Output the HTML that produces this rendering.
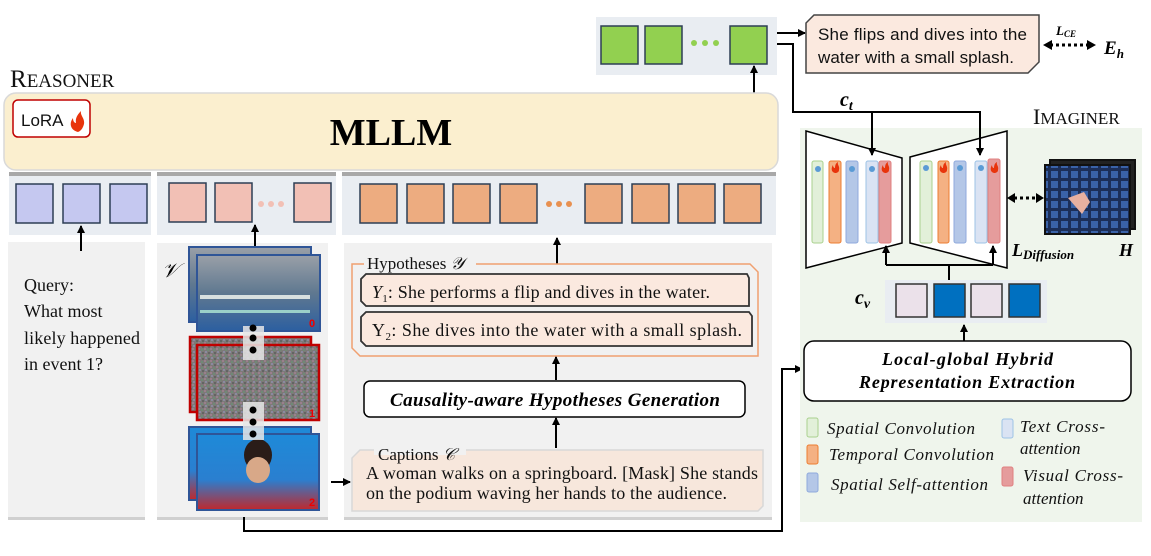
<!DOCTYPE html>
<html><head><meta charset="utf-8"><style>
html,body{margin:0;padding:0;background:#fff;}
svg{display:block}
.s{font-family:"Liberation Serif",serif;}
.a{font-family:"Liberation Sans",sans-serif;}
</style></head><body>
<svg width="1151" height="556" viewBox="0 0 1151 556" xmlns="http://www.w3.org/2000/svg">
<defs>
<marker id="ah" markerWidth="8" markerHeight="8" refX="7" refY="4" orient="auto" markerUnits="userSpaceOnUse"><path d="M0,0 L8,4 L0,8 Z" fill="#000"/></marker>
<pattern id="noise" width="6" height="6" patternUnits="userSpaceOnUse">
<rect width="6" height="6" fill="#7d7a78"/><rect x="0" y="0" width="2" height="2" fill="#9a7f8c"/><rect x="3" y="1" width="2" height="2" fill="#6f8a76"/><rect x="1" y="3" width="2" height="2" fill="#8a8aa0"/><rect x="4" y="4" width="2" height="2" fill="#646464"/></pattern>
<pattern id="seats" width="10" height="10" patternUnits="userSpaceOnUse"><rect width="10" height="10" fill="#1c2e58"/><rect x="1" y="1" width="7" height="7" fill="#3a62a8"/></pattern>
<linearGradient id="pool" x1="0" y1="0" x2="0" y2="1"><stop offset="0" stop-color="#9aa0a8"/><stop offset="0.5" stop-color="#5f7890"/><stop offset="1" stop-color="#2c5fa0"/></linearGradient>
<linearGradient id="pod" x1="0" y1="0" x2="0" y2="1"><stop offset="0" stop-color="#1e8ad8"/><stop offset="0.6" stop-color="#2a7fd0"/><stop offset="1" stop-color="#c0282c"/></linearGradient>
</defs>

<!-- green output tokens -->
<rect x="596" y="17" width="181" height="58" fill="#e9edf2"/>
<rect x="601" y="26" width="37" height="38" fill="#92d050" stroke="#2d3e55" stroke-width="1.5"/>
<rect x="645" y="26" width="37" height="38" fill="#92d050" stroke="#2d3e55" stroke-width="1.5"/>
<circle cx="694" cy="43" r="3" fill="#92d050"/><circle cx="705" cy="43" r="3" fill="#92d050"/><circle cx="716" cy="43" r="3" fill="#92d050"/>
<rect x="730" y="26" width="37" height="38" fill="#92d050" stroke="#2d3e55" stroke-width="1.5"/>
<line x1="754" y1="93" x2="754" y2="66" stroke="#000" stroke-width="2" marker-end="url(#ah)"/>

<!-- output sentence -->
<line x1="777" y1="33" x2="805" y2="33" stroke="#000" stroke-width="2" marker-end="url(#ah)"/>
<polygon points="814,15 1039,15 1039,62 1028,73 806,73 806,23" fill="#fbe9df" stroke="#444" stroke-width="1.5"/>
<text x="818" y="40" class="a" font-size="17" fill="#111" textLength="209">She flips and dives into the</text>
<text x="818" y="63" class="a" font-size="17" fill="#111" textLength="196">water with a small splash.</text>
<text x="1056" y="35" class="s" font-size="13" font-weight="bold" font-style="italic">L<tspan font-size="9" dy="2">CE</tspan></text>
<line x1="1050" y1="45" x2="1088" y2="45" stroke="#000" stroke-width="3" stroke-dasharray="3,3"/>
<path d="M1043,45 l9,-5 v10 z M1096,45 l-9,-5 v10 z" fill="#000"/>
<text x="1104" y="54" class="s" font-size="19" font-weight="bold" font-style="italic">E<tspan font-size="13" dy="4">h</tspan></text>

<!-- REASONER -->
<text x="10" y="87" class="s" font-size="25" fill="#111">R<tspan font-size="19">EASONER</tspan></text>
<rect x="4" y="93" width="774" height="77" rx="12" fill="#fbefcf" stroke="#d9d9d9" stroke-width="1.5"/>
<rect x="13" y="100" width="77" height="37" rx="5" fill="#fff" stroke="#c00000" stroke-width="1.5"/>
<text x="21" y="126" class="a" font-size="17" fill="#111">LoRA</text>
<path d="M78,132 c-8,-2 -9,-9 -5,-14 c0,4 2,5 3,5 c-1,-5 2,-9 5,-12 c-1,5 4,7 3,13 c-1,4 -3,7 -6,8 z" fill="#e8340c"/>
<text x="391" y="145" class="s" font-size="38" font-weight="bold" text-anchor="middle">MLLM</text>

<!-- token rows -->
<rect x="9" y="172" width="142" height="63" fill="#e9edf2"/><rect x="9" y="172" width="142" height="4" fill="#a8a8a8"/>
<rect x="157" y="172" width="179" height="63" fill="#e9edf2"/><rect x="157" y="172" width="179" height="4" fill="#a8a8a8"/>
<rect x="342" y="172" width="434" height="63" fill="#e9edf2"/><rect x="342" y="172" width="434" height="4" fill="#a8a8a8"/>
<g stroke="#2d3e55" stroke-width="1.5">
<rect x="16" y="184" width="37" height="39" fill="#c5c8f0"/>
<rect x="63" y="184" width="37" height="39" fill="#c5c8f0"/>
<rect x="110" y="184" width="37" height="39" fill="#c5c8f0"/>
<rect x="169" y="183" width="37" height="39" fill="#f2c0b5"/>
<rect x="215" y="183" width="37" height="39" fill="#f2c0b5"/>
<rect x="294" y="183" width="37" height="39" fill="#f2c0b5"/>
<rect x="360" y="184" width="37" height="39" fill="#edac80"/>
<rect x="407" y="184" width="37" height="39" fill="#edac80"/>
<rect x="453" y="184" width="37" height="39" fill="#edac80"/>
<rect x="500" y="184" width="37" height="39" fill="#edac80"/>
<rect x="585" y="184" width="37" height="39" fill="#edac80"/>
<rect x="632" y="184" width="37" height="39" fill="#edac80"/>
<rect x="678" y="184" width="37" height="39" fill="#edac80"/>
<rect x="724" y="184" width="37" height="39" fill="#edac80"/>
</g>
<circle cx="261" cy="204" r="3" fill="#f2c0b5"/><circle cx="271" cy="204" r="3" fill="#f2c0b5"/><circle cx="281" cy="204" r="3" fill="#f2c0b5"/>
<circle cx="549" cy="204" r="3" fill="#e89050"/><circle cx="559" cy="204" r="3" fill="#e89050"/><circle cx="569" cy="204" r="3" fill="#e89050"/>

<!-- Query panel -->
<rect x="8" y="242" width="137" height="278" fill="#f1f1f1"/><rect x="8" y="517" width="137" height="3" fill="#d0d0d0"/>
<line x1="81" y1="251" x2="81" y2="226" stroke="#000" stroke-width="2" marker-end="url(#ah)"/>
<g class="s" font-size="18" fill="#111">
<text x="24" y="291">Query:</text>
<text x="24" y="317">What most</text>
<text x="24" y="344" textLength="116">likely happened</text>
<text x="24" y="370">in event 1?</text>
</g>

<!-- V panel -->
<rect x="157" y="243" width="171" height="277" fill="#f1f1f1"/><rect x="157" y="517" width="171" height="3" fill="#d0d0d0"/>
<line x1="255" y1="250" x2="255" y2="225" stroke="#000" stroke-width="2" marker-end="url(#ah)"/>
<text x="162" y="277" class="s" font-size="20" font-style="italic">𝒱</text>
<rect x="189" y="247" width="122" height="75" fill="url(#pool)" stroke="#2f5597" stroke-width="2"/>
<rect x="197" y="255" width="123" height="76" fill="url(#pool)" stroke="#2f5597" stroke-width="2"/>
<rect x="200" y="295" width="110" height="4" fill="#d8e0e0"/><rect x="200" y="310" width="110" height="3" fill="#9bd0c8"/>
<text x="309" y="327" class="a" font-size="11" font-weight="bold" fill="#e00">0</text>
<rect x="190" y="337" width="121" height="75" fill="url(#noise)" stroke="#c00000" stroke-width="2.5"/>
<rect x="197" y="345" width="122" height="75" fill="url(#noise)" stroke="#c00000" stroke-width="2.5"/>
<text x="309" y="417" class="a" font-size="11" font-weight="bold" fill="#e00">1</text>
<rect x="189" y="427" width="122" height="73" fill="url(#pod)" stroke="#2f5597" stroke-width="2"/>
<rect x="197" y="434" width="122" height="76" fill="url(#pod)" stroke="#2f5597" stroke-width="2"/>
<ellipse cx="258" cy="455" rx="14" ry="16" fill="#2a1c18"/><ellipse cx="258" cy="470" rx="12" ry="13" fill="#d8a888"/>
<text x="309" y="506" class="a" font-size="11" font-weight="bold" fill="#e00">2</text>
<rect x="243" y="326" width="21" height="34" fill="#e6e6e6" opacity="0.85"/>
<rect x="243" y="402" width="21" height="38" fill="#e6e6e6" opacity="0.85"/>
<circle cx="253" cy="328" r="3.5" fill="#000"/><circle cx="253" cy="338" r="3.5" fill="#000"/><circle cx="253" cy="350" r="3.5" fill="#000"/>
<circle cx="253" cy="410" r="3.5" fill="#000"/><circle cx="253" cy="422" r="3.5" fill="#000"/><circle cx="253" cy="434" r="3.5" fill="#000"/>

<!-- main panel -->
<rect x="344" y="243" width="428" height="277" fill="#f1f1f1"/><rect x="344" y="517" width="428" height="3" fill="#d0d0d0"/>
<line x1="557" y1="264" x2="557" y2="238" stroke="#000" stroke-width="2" marker-end="url(#ah)"/>
<polyline points="364,264 352,264 352,348 360,356 758,356 758,272 750,264 476,264" fill="none" stroke="#f0a070" stroke-width="1.5"/>
<text x="367" y="269" class="s" font-size="17" fill="#111">Hypotheses <tspan font-style="italic">𝒴</tspan></text>
<polygon points="366,274 747,274 749,278 749,306 366,306 361,301 361,279" fill="#fbe9df" stroke="#333" stroke-width="1.8"/>
<text x="372" y="298" class="s" font-size="18" fill="#111" textLength="338"><tspan font-style="italic">Y</tspan><tspan font-size="11" dy="4">1</tspan><tspan dy="-4">: She performs a flip and dives in the water.</tspan></text>
<polygon points="366,312 749,312 752,316 752,346 366,346 361,341 361,317" fill="#fbe9df" stroke="#333" stroke-width="1.8"/>
<text x="372" y="336" class="s" font-size="18" fill="#111" textLength="370">Y<tspan font-size="11" dy="4">2</tspan><tspan dy="-4">: She dives into the water with a small splash.</tspan></text>
<line x1="556" y1="380" x2="556" y2="357" stroke="#000" stroke-width="2" marker-end="url(#ah)"/>
<rect x="364" y="381" width="381" height="36" rx="6" fill="#fff" stroke="#000" stroke-width="1.5"/>
<text x="390" y="406" class="s" font-size="19" font-weight="bold" font-style="italic" textLength="330">Causality-aware Hypotheses Generation</text>
<line x1="556" y1="448" x2="556" y2="418" stroke="#000" stroke-width="2" marker-end="url(#ah)"/>
<polygon points="360,450 763,450 763,506 758,511 352,511 352,458" fill="#f7e7dc" stroke="#d8d8d8" stroke-width="1.5"/>
<rect x="374" y="445" width="92" height="10" fill="#f1f1f1"/>
<text x="378" y="460" class="s" font-size="17" fill="#111">Captions <tspan font-style="italic">𝒞</tspan></text>
<text x="366" y="479" class="s" font-size="18" fill="#111" textLength="392">A woman walks on a springboard. [Mask] She stands</text>
<text x="366" y="499" class="s" font-size="18" fill="#111" textLength="361">on the podium waving her hands to the audience.</text>
<line x1="331" y1="482" x2="350" y2="482" stroke="#000" stroke-width="2" marker-end="url(#ah)"/>

<!-- bottom connector -->
<polyline points="244,517 244,531 782,531 782,369 802,369" fill="none" stroke="#000" stroke-width="2" marker-end="url(#ah)"/>

<!-- IMAGINER -->
<rect x="800" y="128" width="342" height="394" fill="#eff5ec"/>
<text x="1033" y="124" class="s" font-size="22" fill="#111">I<tspan font-size="17">MAGINER</tspan></text>
<polygon points="806,131 902,158 902,243 806,268" fill="#fff" stroke="#000" stroke-width="1.5"/>
<polygon points="910,157 1007,131 1007,268 910,243" fill="#fff" stroke="#000" stroke-width="1.5"/>
<!-- c_t lines (on top) -->
<polyline points="777,44 793,44 793,112 980,112 980,155" fill="none" stroke="#000" stroke-width="2" marker-end="url(#ah)"/>
<line x1="872" y1="112" x2="872" y2="155" stroke="#000" stroke-width="2" marker-end="url(#ah)"/>
<text x="840" y="106" class="s" font-size="20" font-weight="bold" font-style="italic">c<tspan font-size="14" dy="4">t</tspan></text>
<g stroke-width="1">
<rect x="812" y="161" width="11" height="82" rx="2" fill="#e2f0d9" stroke="#a9d18e"/>
<rect x="829" y="161" width="12" height="82" rx="2" fill="#f4b183" stroke="#ed7d31"/>
<rect x="846" y="161" width="12" height="82" rx="2" fill="#b4c7e7" stroke="#8faadc"/>
<rect x="866" y="161" width="12" height="82" rx="2" fill="#dae3f3" stroke="#9dc3e6"/>
<rect x="879" y="161" width="12" height="82" rx="2" fill="#e59c9c" stroke="#e08080"/>
<rect x="920" y="161" width="12" height="82" rx="2" fill="#e2f0d9" stroke="#a9d18e"/>
<rect x="938" y="161" width="11" height="82" rx="2" fill="#f4b183" stroke="#ed7d31"/>
<rect x="954" y="161" width="12" height="82" rx="2" fill="#b4c7e7" stroke="#8faadc"/>
<rect x="975" y="161" width="12" height="82" rx="2" fill="#dae3f3" stroke="#9dc3e6"/>
<rect x="988" y="159" width="12" height="84" rx="2" fill="#e59c9c" stroke="#e08080"/>
</g>
<g fill="#5b9bd5"><circle cx="818" cy="169" r="3"/><circle cx="852" cy="169" r="3"/><circle cx="872" cy="169" r="3"/><circle cx="926" cy="168" r="3"/><circle cx="960" cy="168" r="3"/><circle cx="981" cy="168" r="3"/></g>
<g fill="#e8340c"><path d="M835,173 c-4,-1 -4,-5 -2,-8 c0,2 1,3 2,3 c0,-3 1,-5 3,-6 c-1,3 2,4 1,8 c0,2 -2,3 -4,3z"/><path d="M885,173 c-4,-1 -4,-5 -2,-8 c0,2 1,3 2,3 c0,-3 1,-5 3,-6 c-1,3 2,4 1,8 c0,2 -2,3 -4,3z"/><path d="M943,173 c-4,-1 -4,-5 -2,-8 c0,2 1,3 2,3 c0,-3 1,-5 3,-6 c-1,3 2,4 1,8 c0,2 -2,3 -4,3z"/><path d="M994,173 c-4,-1 -4,-5 -2,-8 c0,2 1,3 2,3 c0,-3 1,-5 3,-6 c-1,3 2,4 1,8 c0,2 -2,3 -4,3z"/></g>
<polyline points="886,265 993,265" fill="none" stroke="#000" stroke-width="2"/>
<line x1="886" y1="265" x2="886" y2="246" stroke="#000" stroke-width="2" marker-end="url(#ah)"/>
<line x1="993" y1="265" x2="993" y2="246" stroke="#000" stroke-width="2" marker-end="url(#ah)"/>
<line x1="949" y1="280" x2="949" y2="265" stroke="#000" stroke-width="2"/>
<!-- H -->
<line x1="1014" y1="198" x2="1037" y2="198" stroke="#000" stroke-width="3" stroke-dasharray="3,3"/>
<path d="M1007,198 l8,-5 v10 z M1044,198 l-8,-5 v10 z" fill="#000"/>
<rect x="1050" y="160" width="85" height="69" fill="#222" stroke="#111" stroke-width="2"/>
<rect x="1045" y="165" width="85" height="69" fill="url(#seats)" stroke="#111" stroke-width="2"/>
<path d="M1068,198 l16,-6 l6,10 l-8,12 z" fill="#e8b0a0"/>
<text x="1012" y="256" class="s" font-size="18" font-weight="bold" font-style="italic">L<tspan font-size="13" dy="3">Diffusion</tspan></text>
<text x="1119" y="256" class="s" font-size="18" font-weight="bold" font-style="italic">H</text>
<!-- c_v -->
<rect x="885" y="280" width="162" height="43" fill="#e9edf2"/>
<g stroke="#333" stroke-width="1.5">
<rect x="896" y="284" width="31" height="33" fill="#ebe1ea"/>
<rect x="934" y="284" width="31" height="33" fill="#0070c0"/>
<rect x="971" y="284" width="31" height="33" fill="#ebe1ea"/>
<rect x="1009" y="284" width="31" height="33" fill="#0070c0"/>
</g>
<text x="855" y="304" class="s" font-size="20" font-weight="bold" font-style="italic">c<tspan font-size="14" dy="4">v</tspan></text>
<line x1="964" y1="341" x2="964" y2="325" stroke="#000" stroke-width="2" marker-end="url(#ah)"/>
<rect x="804" y="341" width="327" height="60" rx="10" fill="#fff" stroke="#000" stroke-width="1.5"/>
<text x="882" y="365" class="s" font-size="18" font-weight="bold" font-style="italic" textLength="171">Local-global  Hybrid</text>
<text x="859" y="388" class="s" font-size="18" font-weight="bold" font-style="italic" textLength="216">Representation Extraction</text>
<!-- legend -->
<g stroke-width="1">
<rect x="807" y="418" width="11" height="19" rx="2" fill="#e2f0d9" stroke="#a9d18e"/>
<rect x="807" y="445" width="11" height="19" rx="2" fill="#f4b183" stroke="#ed7d31"/>
<rect x="807" y="473" width="11" height="19" rx="2" fill="#b4c7e7" stroke="#8faadc"/>
<rect x="1002" y="419" width="11" height="19" rx="2" fill="#dae3f3" stroke="#9dc3e6"/>
<rect x="1002" y="467" width="11" height="19" rx="2" fill="#e59c9c" stroke="#e08080"/>
</g>
<g class="s" font-size="17" font-style="italic" fill="#111">
<text x="827" y="434" textLength="148">Spatial Convolution</text>
<text x="829" y="460" textLength="165">Temporal Convolution</text>
<text x="831" y="490" textLength="157">Spatial Self-attention</text>
<text x="1020" y="432" textLength="85">Text Cross-</text>
<text x="1020" y="454">attention</text>
<text x="1023" y="481" textLength="100">Visual Cross-</text>
<text x="1023" y="504">attention</text>
</g>
</svg>
</body></html>
